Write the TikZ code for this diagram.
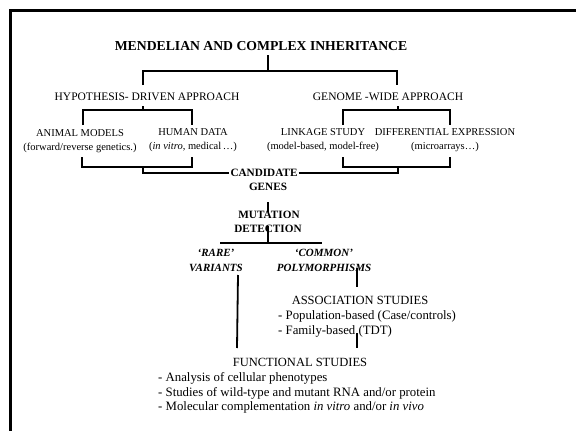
\documentclass[tikz,border=0pt]{standalone}
\usepackage{fontspec}
\setmainfont{Liberation Serif}
\usetikzlibrary{positioning}

\begin{document}
\begin{tikzpicture}[x=1pt, y=-1pt,
                          titlenode/.style={font=\fontsize{13.7}{15}\selectfont\bfseries, inner sep=1pt},
                          approachnode/.style={font=\fontsize{11.5}{14}\selectfont, inner sep=1pt},
                          sourcenode/.style={font=\fontsize{10.5}{14}\selectfont, align=center, inner sep=1pt},
                          stagenode/.style={font=\fontsize{11.2}{14}\selectfont\bfseries, inner sep=1pt},
                          variantnode/.style={font=\fontsize{11}{15}\selectfont\bfseries\itshape, align=center, inner sep=1pt},
                          studynode/.style={font=\fontsize{12.5}{14}\selectfont, inner sep=1pt},
                          listnode/.style={font=\fontsize{12.8}{14.5}\selectfont, align=left, inner sep=0pt, anchor=west},
                          branch/.style={line width=1.8pt},
                      ]
                      \useasboundingbox (0,0) rectangle (576,431);
                      \draw[line width=3pt] (10.5,431) -- (10.5,10.5) -- (576,10.5);

                      % Nodes
                      \node[titlenode]        (inherit)      at (261,46)     {MENDELIAN AND COMPLEX INHERITANCE};

                      \node[approachnode]     (hypothesis)   at (147,97)     {HYPOTHESIS- DRIVEN APPROACH};
                      \node[approachnode]     (genome)       at (388,97)     {GENOME -WIDE APPROACH};

                      \node[sourcenode]       (animal)       at (80,141)     {ANIMAL MODELS\\(forward/reverse genetics.)};
                      \node[sourcenode]       (human)        at (193,140)    {HUMAN DATA\\(\textit{in vitro}, medical\,\dots)};
                      \node[sourcenode]       (linkage)      at (323,140)    {LINKAGE STUDY\\(model-based, model-free)};
                      \node[sourcenode]       (expression)   at (445,140)    {DIFFERENTIAL EXPRESSION\\(microarrays\dots)};

                      \node[stagenode]        (candidate)    at (264,173)    {CANDIDATE};
                      \node[stagenode]        (genes)        at (268,187)    {GENES};
                      \node[stagenode]        (mutation)     at (269,215)    {MUTATION};
                      \node[stagenode]        (detection)    at (268,229)    {DETECTION};

                      \node[variantnode]      (rare)         at (216,260)    {`RARE'\\VARIANTS};
                      \node[variantnode]      (common)       at (324,260)    {`COMMON'\\POLYMORPHISMS};

                      \node[studynode]        (association)  at (360,300)    {ASSOCIATION STUDIES};
                      \node[listnode]         (assoc_list)   at (278,324)    {- Population-based (Case/controls)\\- Family-based (TDT)};
                      \node[studynode]        (functional)   at (300,362)    {FUNCTIONAL STUDIES};
                      \node[listnode]         (func_list)    at (158,393)    {- Analysis of cellular phenotypes\\- Studies of wild-type and mutant RNA  and/or protein\\- Molecular complementation \textit{in vitro} and/or \textit{in vivo}};

                      % Bracket points
                      \coordinate (inherit_stem) at (268,55);
                      \coordinate (inherit_join) at (268,71);
                      \coordinate (hyp_top)      at (143,85);
                      \coordinate (gen_top)      at (397,85);
                      \coordinate (hyp_stem)     at (143,106);
                      \coordinate (hyp_join)     at (143,110);
                      \coordinate (gen_stem)     at (398,106);
                      \coordinate (gen_join)     at (398,110);
                      \coordinate (animal_top)   at (83,125);
                      \coordinate (human_top)    at (192,125);
                      \coordinate (linkage_top)  at (343,125);
                      \coordinate (expr_top)     at (450,125);
                      \coordinate (animal_foot)  at (82,157);
                      \coordinate (human_foot)   at (192,157);
                      \coordinate (left_join)    at (143,167);
                      \coordinate (linkage_foot) at (343,157);
                      \coordinate (expr_foot)    at (450,157);
                      \coordinate (right_join)   at (398,167);
                      \coordinate (genes_stem)   at (268,202);
                      \coordinate (mutation_top) at (268,212);
                      \coordinate (detect_stem)  at (268,226);
                      \coordinate (detect_join)  at (268,243);
                      \coordinate (rare_end)     at (220,243);
                      \coordinate (common_end)   at (322,243);
                      \coordinate (rare_stem)    at (238,275);
                      \coordinate (rare_foot)    at (237,348);
                      \coordinate (common_stem)  at (357,268);
                      \coordinate (common_foot)  at (357,287);
                      \coordinate (assoc_stem)   at (357,333);
                      \coordinate (assoc_foot)   at (357,348);

                      %Lines
                      \draw[branch] (inherit_stem) -- (inherit_join);
                      \draw[branch] (hyp_top) |- (inherit_join) -| (gen_top);
                      \draw[branch] (hyp_stem) -- (hyp_join);
                      \draw[branch] (animal_top) |- (hyp_join) -| (human_top);
                      \draw[branch] (gen_stem) -- (gen_join);
                      \draw[branch] (linkage_top) |- (gen_join) -| (expr_top);
                      \draw[branch] (animal_foot) |- (left_join) -| (human_foot);
                      \draw[branch] (left_join) |- (candidate.west);
                      \draw[branch] (linkage_foot) |- (right_join) -| (expr_foot);
                      \draw[branch] (candidate.east) -| (right_join);
                      \draw[branch] (genes_stem) -- (mutation_top);
                      \draw[branch] (detect_stem) -- (detect_join);
                      \draw[branch] (rare_end) -- (common_end);
                      \draw[branch] (rare_stem) -- (rare_foot);
                      \draw[branch] (common_stem) -- (common_foot);
                      \draw[branch] (assoc_stem) -- (assoc_foot);
                  \end{tikzpicture}
\end{document}
